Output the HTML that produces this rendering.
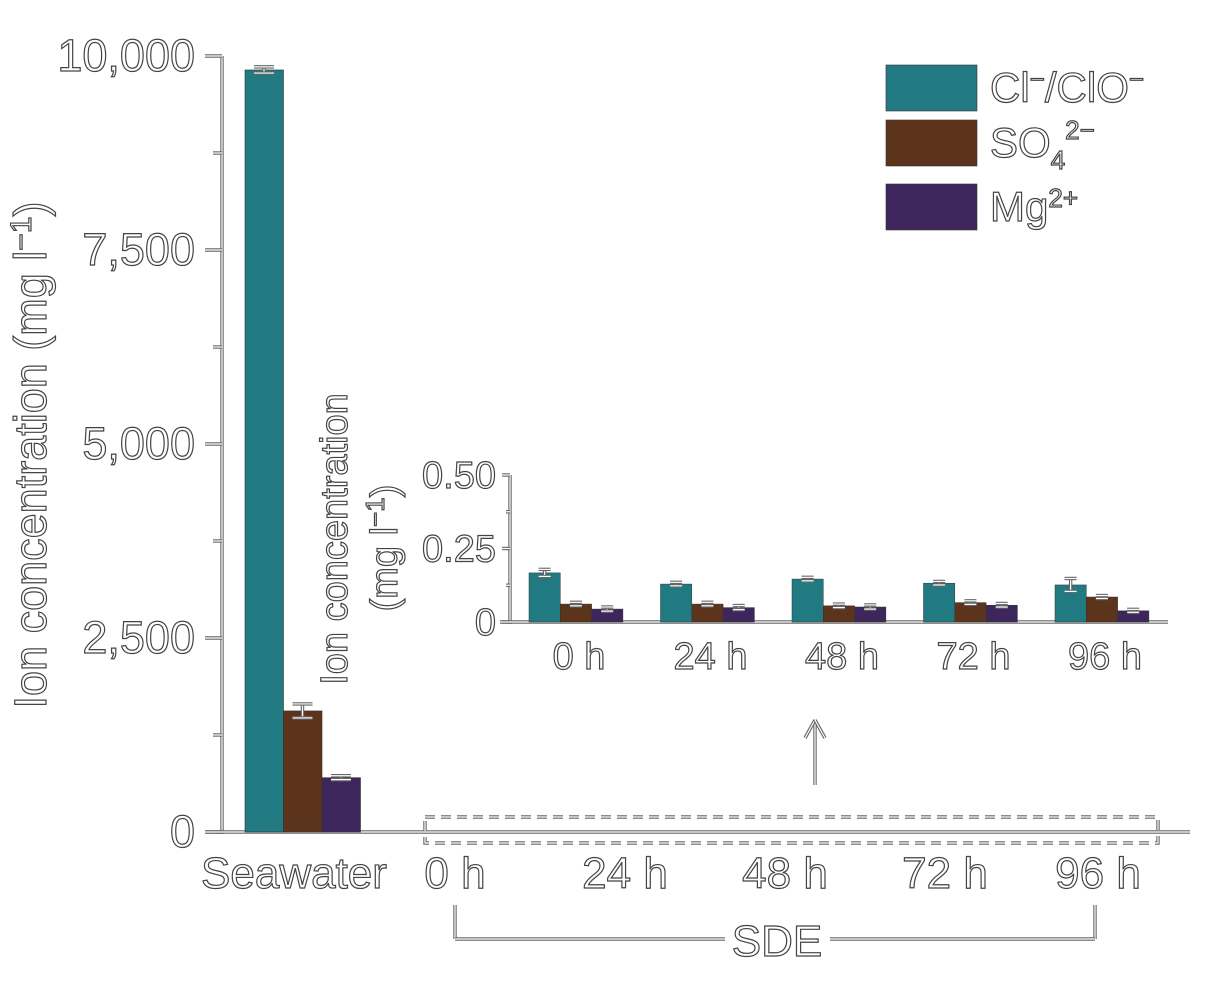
<!DOCTYPE html>
<html><head><meta charset="utf-8"><style>
body{margin:0;background:#fff;}
svg{display:block;font-family:"Liberation Sans",sans-serif;}
.t{fill:#fff;stroke:#444;stroke-width:1.2;}
</style></head><body>
<svg id="chart" width="1220" height="988" viewBox="0 0 1220 988" xmlns="http://www.w3.org/2000/svg"></svg>
<script>
const seriesNames=["Cl−/ClO−","SO4 2−","Mg2+"];
const colors=["#217a82","#5c341b","#3d265b"];
const seawaterValues=[9820,1560,700];
const seawaterErrors=[40,90,25];
const mainTicks=[0,2500,5000,7500,10000];
const mainTickLabels=["0","2,500","5,000","7,500","10,000"];
const insetCategories=["0 h","24 h","48 h","72 h","96 h"];
const insetCl=[0.167,0.129,0.146,0.132,0.126];
const insetSO4=[0.061,0.061,0.055,0.066,0.085];
const insetMg=[0.044,0.049,0.051,0.057,0.038];
const insetErr=[[0.012,0.006,0.006,0.006,0.022],[0.006,0.006,0.006,0.006,0.005],[0.007,0.007,0.007,0.006,0.005]];
const insetTicks=[0,0.25,0.5];
const insetTickLabels=["0","0.25","0.50"];

const NS="http://www.w3.org/2000/svg";
const svg=document.getElementById('chart');
function mk(tag,attrs,parent){const e=document.createElementNS(NS,tag);for(const k in attrs)e.setAttribute(k,attrs[k]);(parent||svg).appendChild(e);return e;}
function dline(x1,y1,x2,y2,name){
  const g=mk('g',{});
  
  
  mk('line',{x1,y1,x2,y2,stroke:'#666','stroke-width':3.4},g);
  mk('line',{x1,y1,x2,y2,stroke:'#fff','stroke-width':1.2},g);
  return g;
}
function txt(s,x,y,size,anchor,name,rot){
  const e=mk('text',{x,y,'font-size':size,'text-anchor':anchor||'middle',class:'t'});
  if(rot)e.setAttribute('transform',`rotate(-90 ${x} ${y})`);
  e.innerHTML=s;
  
  
  return e;
}
const yMain=v=>832-v/10000*776;
const mainX=222;
dline(mainX,56,mainX,834,'y-axis');
dline(205,832,1190,832,'x-axis');
mainTicks.forEach((v,i)=>{
  dline(205,yMain(v),mainX,yMain(v),'y-tick');
  txt(mainTickLabels[i],195,yMain(v)+15,45,'end','y-tick-label');
});
for(let v=1250;v<10000;v+=2500){dline(213,yMain(v),mainX,yMain(v),'y-minor-tick');}
txt('Ion concentration (mg l<tspan dy="-15" font-size="30">−1</tspan><tspan dy="15">)</tspan>',46,455,45,'middle','y-axis-title',true);
const sx=[245,283.5,322];
seawaterValues.forEach((v,i)=>{
  const r=mk('rect',{x:sx[i],y:yMain(v),width:38.5,height:832-yMain(v),fill:colors[i],stroke:'#333','stroke-width':0.6});
  
  
  const cx=sx[i]+19,e=seawaterErrors[i];
  dline(cx,yMain(v+e),cx,yMain(v-e),'error-bar');
  dline(cx-10,yMain(v+e),cx+10,yMain(v+e),'error-cap');
  dline(cx-10,yMain(v-e),cx+10,yMain(v-e),'error-cap');
});
txt('Seawater',294,888,44,'middle','x-label-seawater');
const sdeX=[455,625,785,945,1098];
insetCategories.forEach((c,i)=>txt(c,sdeX[i],888,44,'middle','x-label-sde'));
const db=mk('g',{});


mk('rect',{x:425,y:817,width:733,height:26,fill:'none',stroke:'#666','stroke-width':3.4,'stroke-dasharray':'10 6'},db);
mk('rect',{x:425,y:817,width:733,height:26,fill:'none',stroke:'#fff','stroke-width':1.2,'stroke-dasharray':'10 6'},db);
dline(455,905,455,939,'sde-bracket-left');
dline(1095,905,1095,939,'sde-bracket-right');
dline(455,939,725,939,'sde-bracket-line');
dline(830,939,1095,939,'sde-bracket-line');
txt('SDE',777,956,44,'middle','sde-label');
dline(815,785,815,722,'arrow-shaft');
dline(815,720,805,738,'arrow-head');
dline(815,720,825,738,'arrow-head');
const yIn=v=>622-v/0.5*147;
const inX=510;
dline(inX,475,inX,624,'inset-y-axis');
dline(500,622,1168,622,'inset-x-axis');
insetTicks.forEach((v,i)=>{
  dline(502,yIn(v),inX,yIn(v),'inset-y-tick');
  txt(insetTickLabels[i],496,yIn(v)+13,38,'end','inset-y-tick-label');
});
[0.125,0.375].forEach(v=>dline(506,yIn(v),inX,yIn(v),'inset-minor-tick'));
txt('Ion concentration',347,539,38,'middle','inset-y-title',true);
txt('(mg l<tspan dy="-13" font-size="26">−1</tspan><tspan dy="13">)</tspan>',397,548,38,'middle','inset-y-title-units',true);
const insetSeries=[insetCl,insetSO4,insetMg];
insetCategories.forEach((c,g)=>{
  const gx=529+g*131.5;
  insetSeries.forEach((arr,s)=>{
    const v=arr[g],x=gx+s*31.3;
    const r=mk('rect',{x,y:yIn(v),width:31.3,height:622-yIn(v),fill:colors[s],stroke:'#333','stroke-width':0.5});
    
    
    const cx=x+15.6,e=insetErr[s][g];
    dline(cx,yIn(v+e),cx,yIn(v-e),'inset-error-bar');
    dline(cx-6,yIn(v+e),cx+6,yIn(v+e),'inset-error-cap');
    dline(cx-6,yIn(v-e),cx+6,yIn(v-e),'inset-error-cap');
  });
  txt(c,gx+50,669,38,'middle','inset-x-label');
});
const legY=[65,120,184];
const legLabels=['Cl<tspan dy="-14" font-size="26">−</tspan><tspan dy="14">/ClO</tspan><tspan dy="-14" font-size="26">−</tspan>',
 'SO<tspan dy="12" font-size="26">4</tspan><tspan dy="-30" font-size="26">2−</tspan>',
 'Mg<tspan dy="-14" font-size="26">2+</tspan>'];
legY.forEach((y,i)=>{
  const r=mk('rect',{x:886,y,width:91,height:46,fill:colors[i],stroke:'#333','stroke-width':0.6});
  
  
  txt(legLabels[i],990,y+37,42,'start','legend-label');
});
</script>
</body></html>
